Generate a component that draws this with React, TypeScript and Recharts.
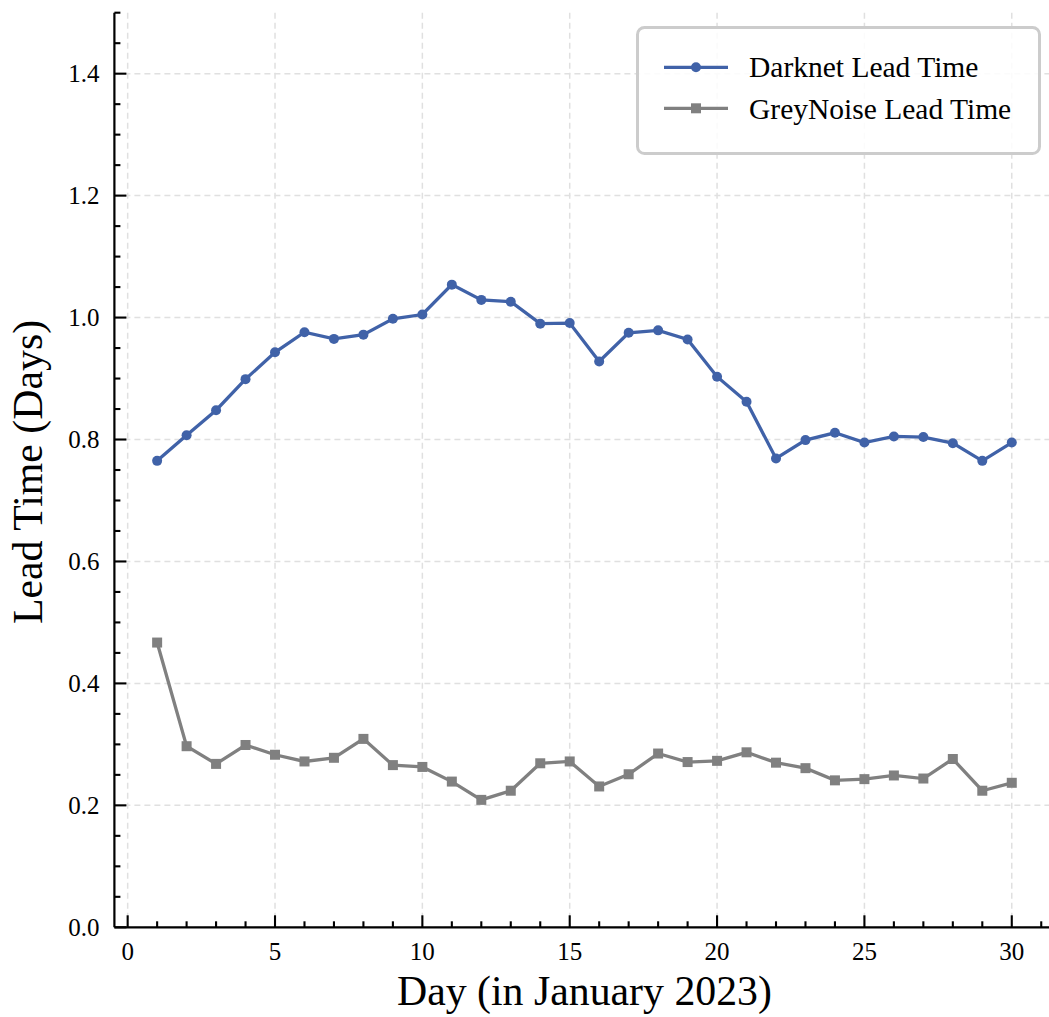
import React from "react";
import { LineChart, Line, XAxis, YAxis, CartesianGrid } from "recharts";

const days = [1,2,3,4,5,6,7,8,9,10,11,12,13,14,15,16,17,18,19,20,21,22,23,24,25,26,27,28,29,30];
const darknet = [0.765,0.807,0.848,0.899,0.943,0.976,0.965,0.972,0.998,1.005,1.054,1.029,1.026,0.990,0.991,0.928,0.975,0.979,0.964,0.903,0.862,0.769,0.799,0.811,0.795,0.805,0.804,0.794,0.765,0.795];
const greynoise = [0.467,0.297,0.268,0.299,0.283,0.272,0.278,0.309,0.266,0.263,0.239,0.209,0.224,0.269,0.272,0.231,0.251,0.285,0.271,0.273,0.287,0.270,0.261,0.241,0.243,0.249,0.244,0.276,0.224,0.237];

const xMajorTicks = [0,5,10,15,20,25,30];
const xAllTicks = [0,1,2,3,4,5,6,7,8,9,10,11,12,13,14,15,16,17,18,19,20,21,22,23,24,25,26,27,28,29,30,31];
const yMajorTicks = [0,0.2,0.4,0.6,0.8,1.0,1.2,1.4];
const yAllTicks = [0,0.05,0.1,0.15,0.2,0.25,0.3,0.35,0.4,0.45,0.5,0.55,0.6,0.65,0.7,0.75,0.8,0.85,0.9,0.95,1.0,1.05,1.1,1.15,1.2,1.25,1.3,1.35,1.4,1.45,1.5];

const seriesNames = ["Darknet Lead Time", "GreyNoise Lead Time"];
const xLabel = "Day (in January 2023)";
const yLabel = "Lead Time (Days)";

const data = days.map((d, i) => ({ day: d, darknet: darknet[i], greynoise: greynoise[i] }));

const BLUE = "#4062a8";
const GREY = "#808080";
const FONT = "'Liberation Serif', 'Times New Roman', 'DejaVu Serif', serif";
const X_DOMAIN: [number, number] = [-0.45, 31.45];
const Y_DOMAIN: [number, number] = [0, 1.5];
const LW = 3.3;
const TICK_W = 2.1;

const isMajorX = (v: number) => xMajorTicks.includes(v);
const isMajorY = (v: number) => yMajorTicks.some((m) => Math.abs(m - v) < 1e-6);

const BottomTick = (props: any) => {
  const { x, y, payload } = props;
  const major = isMajorX(payload.value);
  return (
    <g>
      <line x1={x} x2={x} y1={y} y2={y - (major ? 12 : 6)} stroke="#000" strokeWidth={TICK_W} />
      {major && (
        <text x={x} y={y + 33} textAnchor="middle" fontSize={25} fontFamily={FONT} fill="#000">
          {payload.value}
        </text>
      )}
    </g>
  );
};

const TopTick = (props: any) => {
  const { x, y, payload } = props;
  const major = isMajorX(payload.value);
  return <line x1={x} x2={x} y1={y} y2={y + (major ? 12 : 6)} stroke="#000" strokeWidth={TICK_W} />;
};

const LeftTick = (props: any) => {
  const { x, y, payload } = props;
  const major = isMajorY(payload.value);
  return (
    <g>
      <line x1={x} x2={x + (major ? 12 : 6)} y1={y} y2={y} stroke="#000" strokeWidth={TICK_W} />
      {major && (
        <text x={x - 15} y={y + 8.5} textAnchor="end" fontSize={25} fontFamily={FONT} fill="#000">
          {payload.value.toFixed(1)}
        </text>
      )}
    </g>
  );
};

const RightTick = (props: any) => {
  const { x, y, payload } = props;
  const major = isMajorY(payload.value);
  return <line x1={x} x2={x - (major ? 12 : 6)} y1={y} y2={y} stroke="#000" strokeWidth={TICK_W} />;
};

const SquareDot = (props: any) => {
  const { cx, cy, index } = props;
  if (cx == null || cy == null) return <g key={`sq-${index}`} />;
  return <rect key={`sq-${index}`} x={cx - 5} y={cy - 5} width={10} height={10} fill={GREY} />;
};

const XLabelContent = (props: any) => {
  const vb = props.viewBox || {};
  return (
    <text x={vb.x + vb.width / 2} y={1005} textAnchor="middle" fontSize={41.8} fontFamily={FONT} fill="#000">
      {xLabel}
    </text>
  );
};

const YLabelContent = (props: any) => {
  const vb = props.viewBox || {};
  const cy = vb.y + vb.height / 2 + 2;
  return (
    <text x={42} y={cy} transform={`rotate(-90, 42, ${cy})`} textAnchor="middle" fontSize={41.8} fontFamily={FONT} fill="#000">
      {yLabel}
    </text>
  );
};

const LegendBox = () => (
  <svg width={405} height={129} style={{ position: "absolute", left: 636, top: 26 }}>
    <rect x={1.5} y={1.5} width={402} height={126} rx={7} ry={7} fill="#fff" fillOpacity={0.85} stroke="#cccccc" strokeWidth={3} />
    <line x1={28} x2={92} y1={41.3} y2={41.3} stroke={BLUE} strokeWidth={LW} />
    <circle cx={60} cy={41.3} r={5} fill={BLUE} />
    <text x={113} y={51.3} fontSize={29.5} fontFamily={FONT} fill="#000">{seriesNames[0]}</text>
    <line x1={28} x2={92} y1={82.3} y2={82.3} stroke={GREY} strokeWidth={LW} />
    <rect x={60 - 5} y={82.3 - 5} width={10} height={10} fill={GREY} />
    <text x={113} y={92.5} fontSize={29.5} fontFamily={FONT} fill="#000">{seriesNames[1]}</text>
  </svg>
);

export default function App() {
  return (
    <div style={{ position: "fixed", left: 0, top: 0, width: 1049, height: 1017, overflow: "hidden", background: "#fff" }}>
      <LineChart width={1060} height={1017} data={data} margin={{ top: 12.7, right: 5.5, bottom: 0, left: 0 }}>
        <CartesianGrid
          stroke="#e0e0e0"
          strokeWidth={1.5}
          strokeDasharray="6 4"
          horizontalValues={yMajorTicks}
          verticalValues={xMajorTicks}
        />
        <XAxis
          dataKey="day"
          type="number"
          domain={X_DOMAIN}
          ticks={xAllTicks}
          interval={0}
          height={89.7}
          tickSize={0}
          tickMargin={0}
          tickLine={false}
          axisLine={{ stroke: "#000", strokeWidth: 2.2 }}
          tick={(p: any) => <BottomTick {...p} />}
          label={<XLabelContent />}
        />
        <XAxis
          xAxisId="top"
          orientation="top"
          dataKey="day"
          type="number"
          domain={X_DOMAIN}
          ticks={xAllTicks}
          interval={0}
          height={0}
          tickSize={0}
          tickMargin={0}
          tickLine={false}
          axisLine={{ stroke: "#000", strokeWidth: 2.2 }}
          tick={(p: any) => <TopTick {...p} />}
        />
        <YAxis
          type="number"
          domain={Y_DOMAIN}
          ticks={yAllTicks}
          interval={0}
          width={114.4}
          tickSize={0}
          tickMargin={0}
          tickLine={false}
          axisLine={{ stroke: "#000", strokeWidth: 2.2 }}
          tick={(p: any) => <LeftTick {...p} />}
          label={<YLabelContent />}
        />
        <YAxis
          yAxisId="right"
          orientation="right"
          type="number"
          domain={Y_DOMAIN}
          ticks={yAllTicks}
          interval={0}
          width={0}
          tickSize={0}
          tickMargin={0}
          tickLine={false}
          axisLine={{ stroke: "#000", strokeWidth: 2.2 }}
          tick={(p: any) => <RightTick {...p} />}
        />
        <Line
          dataKey="darknet"
          stroke={BLUE}
          strokeWidth={LW}
          dot={{ r: 5, fill: BLUE, stroke: BLUE, strokeWidth: 0 }}
          activeDot={false}
          isAnimationActive={false}
        />
        <Line
          dataKey="greynoise"
          stroke={GREY}
          strokeWidth={LW}
          dot={(p: any) => <SquareDot {...p} />}
          activeDot={false}
          isAnimationActive={false}
        />
      </LineChart>
      <LegendBox />
    </div>
  );
}
